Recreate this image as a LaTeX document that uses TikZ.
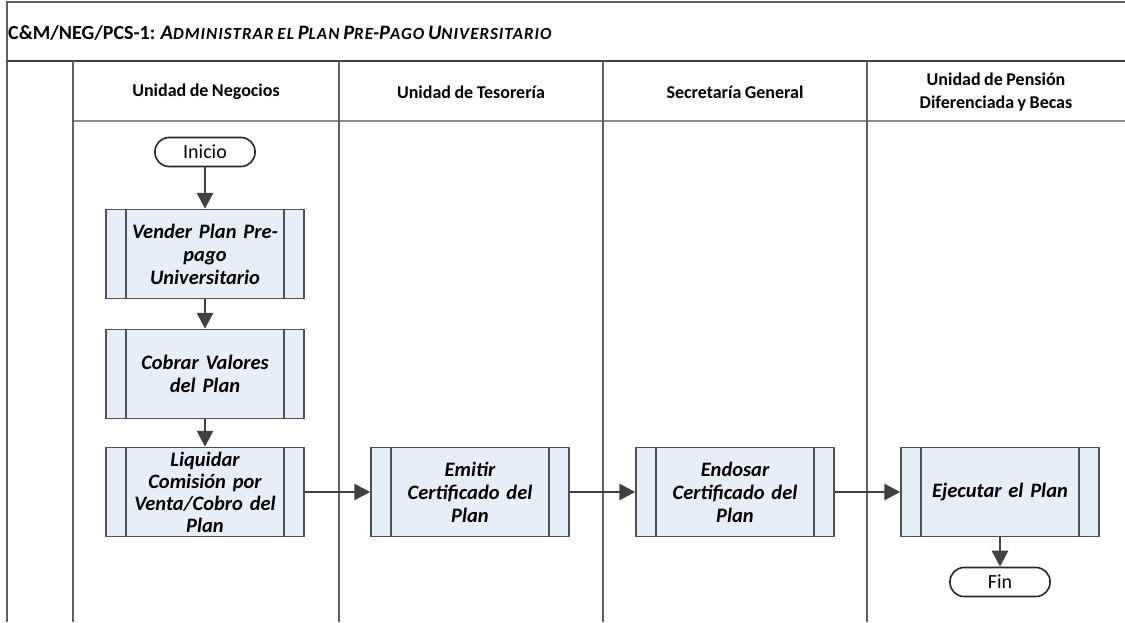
\documentclass[tikz,border=0pt]{standalone}
\usepackage{fontspec}
\setmainfont{Carlito}[WordSpace=0.85]
\usetikzlibrary{arrows.meta}
\definecolor{boxfill}{HTML}{E8EEF8}
\definecolor{boxline}{HTML}{505050}
\definecolor{laneline}{HTML}{606060}
\definecolor{arrowc}{HTML}{404040}
\newcommand{\fsc}[2]{{\fontsize{20.5}{22}\selectfont\addfontfeatures{LetterSpace=6} #1}{\fontsize{17}{22}\selectfont\addfontfeatures{LetterSpace=6} #2}}
\tikzset{
  procbox/.style={draw=boxline, line width=1.4pt, fill=boxfill, minimum width=198pt, minimum height=89pt,
    inner sep=0pt, text width=156pt, align=center, font=\fontsize{20.5}{23}\selectfont\bfseries\itshape,
    path picture={
      \draw[boxline, line width=1.2pt] ([xshift=20pt]path picture bounding box.north west) -- ([xshift=20pt]path picture bounding box.south west);
      \draw[boxline, line width=1.2pt] ([xshift=-20pt]path picture bounding box.north east) -- ([xshift=-20pt]path picture bounding box.south east);
    }},
  term/.style={draw=black!85, line width=1.6pt, rounded corners=14pt, fill=white, minimum width=100pt,
    minimum height=29pt, inner sep=0pt, font=\fontsize{20}{22}\selectfont},
  flow/.style={draw=arrowc, line width=2.8pt, -{Triangle[length=16pt,width=16pt]}},
  lane/.style={draw=laneline, line width=1.6pt},
  hdr/.style={font=\fontsize{18}{23}\selectfont\bfseries, align=center, inner sep=0pt}
}
\begin{document}
\begin{tikzpicture}[x=1pt,y=-1pt]
\useasboundingbox (0,0) rectangle (1125,622);
% frame lines
\draw[lane] (7,622) -- (7,2) -- (1125,2);
\draw[draw=black!75, line width=2.6pt] (7,61) -- (1125,61);
\draw[draw=black!45, line width=1.8pt] (73,121) -- (1125,121);
\foreach \x in {73,339,603,867} \draw[lane] (\x,61) -- (\x,622);
% title
\node[anchor=west, inner sep=0pt, font=\fontsize{20}{22}\selectfont\bfseries] (title) at (8,33)
  {C\&M/NEG/PCS-1: \itshape\fsc{A}{DMINISTRAR} \fsc{}{EL} \fsc{P}{LAN} \fsc{P}{RE}-\fsc{P}{AGO} \fsc{U}{NIVERSITARIO}};
% headers
\node[hdr] (h1) at (206,92) {Unidad de Negocios};
\node[hdr] (h2) at (471,92) {Unidad de Tesorería};
\node[hdr] (h3) at (735,92) {Secretaría General};
\node[hdr] (h4) at (996,92) {Unidad de Pensión\\Diferenciada y Becas};
% nodes
\node[term] (inicio) at (205,152) {Inicio};
\node[procbox] (vender) at (205,254) {Vender Plan Pre-\\pago\\Universitario};
\node[procbox] (cobrar) at (205,374) {Cobrar Valores\\del Plan};
\node[procbox, font=\fontsize{20.5}{22}\selectfont\bfseries\itshape] (liquidar) at (205,492) {Liquidar\\Comisión por\\Venta/Cobro del\\Plan};
\node[procbox] (emitir) at (470,492) {Emitir\\Certificado del\\Plan};
\node[procbox] (endosar) at (735,492) {Endosar\\Certificado del\\Plan};
\node[procbox] (ejecutar) at (1000,492) {Ejecutar el Plan};
\node[term] (fin) at (1000,582) {Fin};
% connectors
\draw[flow] (inicio) -- (vender);
\draw[flow] (vender) -- (cobrar);
\draw[flow] (cobrar) -- (liquidar);
\draw[flow] (liquidar) -- (emitir);
\draw[flow] (emitir) -- (endosar);
\draw[flow] (endosar) -- (ejecutar);
\draw[flow] (ejecutar) -- (fin);
\end{tikzpicture}
\end{document}
